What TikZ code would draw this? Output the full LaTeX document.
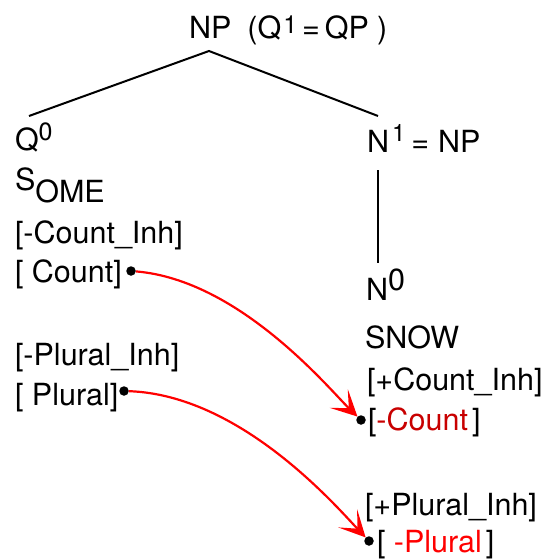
\documentclass[tikz,border=0pt]{standalone}
\usepackage{fontspec}
\setmainfont{TeX Gyre Heros}
\usetikzlibrary{arrows.meta}
\definecolor{cntred}{RGB}{200,0,0}
\definecolor{plred}{RGB}{255,0,0}
\newcommand\mysup[3]{\raisebox{#2}{\fontsize{#1}{#1}\selectfont #3}}
\begin{document}
\begin{tikzpicture}[x=1pt,y=-1pt,
  txt/.style={anchor=base west,inner sep=0pt,outer sep=0pt,font=\fontsize{30.5}{36}\selectfont},
  treeline/.style={line width=2pt,black},
  featdot/.style={circle,fill=black,inner sep=0pt,minimum size=9.5pt},
  linkarrow/.style={line width=2.2pt,red,-{Stealth[length=26pt,width=26pt,inset=14pt]}}]
\useasboundingbox (0,0) rectangle (545,559);
% tree labels
\node[txt] (top) at (189,39) {NP\hspace{16pt}(Q\hspace{2pt}\mysup{25}{5pt}{1}\hspace{5pt}=\hspace{5pt}QP\hspace{8pt})};
\node[txt] (q0) at (15,150) {Q\mysup{25}{10pt}{0}};
\node[txt] (some) at (15,190) {S\raisebox{-12pt}{OME}};
\node[txt] (cntinh) at (15,243) {[-Count\_Inh]};
\node[txt] (cnt) at (15,282) {[ Count]};
\node[txt] (plinh) at (15,365) {[-Plural\_Inh]};
\node[txt] (pl) at (15,405) {[ Plural]};
\node[txt] (n1) at (367,152) {N\hspace{3pt}\mysup{24}{11pt}{1}\hspace{6pt}=\hspace{9pt}NP};
\node[txt] (n0) at (366,300) {N\mysup{30.5}{10pt}{0}};
\node[txt] (snow) at (365,348) {SNOW};
\node[txt] (pcntinh) at (367,390) {[+Count\_Inh]};
\node[txt] (mcnt) at (368,430) {[\textcolor{cntred}{-Count}\hspace{4pt}]};
\node[txt] (pplinh) at (365,515) {[+Plural\_Inh]};
\node[txt] (mpl) at (377,552) {[ \textcolor{plred}{-Plural}\hspace{4pt}]};
% tree branches
\coordinate (apex) at (209,51);
\coordinate (lend) at (29,116);
\coordinate (rend) at (378,116);
\coordinate (vtop) at (378,170);
\coordinate (vbot) at (378,263);
\draw[treeline] (lend) -- (apex) -- (rend);
\draw[treeline] (vtop) -- (vbot);
% feature dots
\node[featdot] (dcnt) at (131,271) {};
\node[featdot] (dpl) at (124,391) {};
\node[featdot] (dmcnt) at (361,420) {};
\node[featdot] (dmpl) at (369,541) {};
% links
\draw[linkarrow] (dcnt) .. controls (240,280) and (330,390) .. (dmcnt);
\draw[linkarrow] (dpl) .. controls (240,395) and (335,505) .. (dmpl);
\end{tikzpicture}
\end{document}
